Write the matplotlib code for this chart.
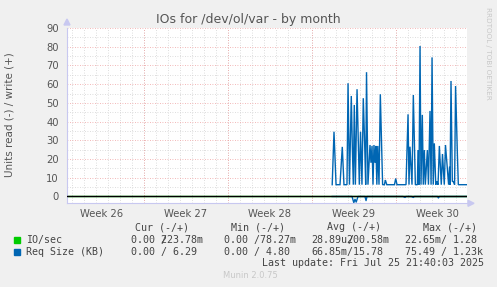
import numpy as np
import matplotlib.pyplot as plt
from matplotlib.patches import Rectangle, Polygon

# --- data (x in days from the left edge of the graph) ---
week_labels = ['Week 26', 'Week 27', 'Week 28', 'Week 29', 'Week 30']
week_starts = [6.375, 13.375, 20.375, 27.375]   # monday 00:00 lines
week_centers = [2.875, 9.875, 16.875, 23.875, 30.875]

# Req Size (KB), write (+)
req_write_x = [22.1, 22.25, 22.42, 22.75, 22.94, 23.08, 23.33, 23.42, 23.54, 23.69, 23.78,
               23.86, 23.94, 24.03, 24.17, 24.36, 24.46, 24.58, 24.69, 24.81, 24.89,
               24.96, 25.08, 25.25, 25.33, 25.42, 25.5, 25.58, 25.67, 25.74, 25.82,
               25.9, 26.0, 26.11, 26.3, 26.45, 26.53, 26.65, 27.29, 27.39, 27.5,
               28.25, 28.42, 28.5, 28.58, 28.75, 28.86, 29.03, 29.2, 29.25, 29.33,
               29.42, 29.5, 29.61, 29.69, 29.78, 29.86, 30.03, 30.12, 30.25, 30.34,
               30.42, 30.52, 30.61, 30.73, 30.82, 30.92, 31.03, 31.19, 31.29, 31.44,
               31.54, 31.8, 31.88, 31.92, 32.0, 32.11, 32.2, 32.3, 32.38, 32.53,
               32.61, 33.31]
req_write_y = [6.3, 34.6, 6.3, 6.3, 26.5, 6.3, 6.3, 60.5, 6.3, 53.7, 25.7,
               6.3, 48.9, 6.3, 57.3, 6.3, 34.6, 6.3, 52.5, 27.0, 6.3,
               66.4, 6.3, 27.5, 18.0, 27.0, 6.3, 27.5, 18.0, 27.0, 6.3,
               27.0, 6.3, 54.6, 6.3, 6.3, 8.8, 6.3, 6.3, 9.6, 6.3,
               6.3, 43.9, 6.3, 26.6, 6.3, 54.2, 6.3, 6.3, 24.8, 6.3,
               80.4, 6.3, 43.6, 6.3, 24.8, 6.3, 24.8, 6.3, 45.7, 6.3,
               74.3, 6.3, 28.4, 6.3, 8.0, 6.3, 27.0, 6.3, 22.7, 6.3,
               27.5, 6.3, 15.9, 6.3, 61.7, 8.0, 8.0, 6.3, 59.0, 23.0,
               6.3, 6.3]

# Req Size (KB), read (-)
req_read_x = [22.1, 23.75, 23.9, 24.0, 24.1, 24.25, 24.83, 24.92, 25.0, 28.0, 28.17,
              28.25, 28.7, 28.86, 28.95, 30.88, 30.95, 31.03, 33.31]
req_read_y = [0, 0, -3.3, -1.5, -3.0, 0, 0, -2.2, 0, 0, -0.5,
              0, 0, -0.5, 0, 0, -0.8, 0, 0]

legend_rows = [
    ('IO/sec', '#00CC00'),
    ('Req Size (KB)', '#0066B3'),
]

W, H = 497, 287
fig = plt.figure(figsize=(W / 100, H / 100), dpi=100, facecolor='#F0F0F0')
# plot area in pixels: x 67..467, y 28..203
ax = fig.add_axes([67 / W, 1 - 203.3 / H, 400 / W, 175.3 / H])
ax.set_facecolor('white')
ax.set_xlim(0, 33.333)
ax.set_ylim(-3.64, 90)

txt = '#555555'

# grid
for d in np.arange(0.375, 33.3, 1.0):
    ax.axvline(d, color='#D2D2D2', lw=0.6, ls=(0, (1, 2)), zorder=0)
for v in range(5, 90, 10):
    ax.axhline(v, color='#D2D2D2', lw=0.6, ls=(0, (1, 2)), zorder=0)
for d in week_starts:
    ax.axvline(d, color='#EEA0A0', lw=0.6, ls=(0, (1, 2)), zorder=0.5)
for v in range(10, 91, 10):
    ax.axhline(v, color='#EEA0A0', lw=0.6, ls=(0, (1, 2)), zorder=0.5)

# series
ax.plot([0, 33.333], [0.02, 0.02], color='#00CC00', lw=1)
ax.plot(req_write_x, req_write_y, color='#0066B3', lw=1.0, solid_joinstyle='miter')
ax.plot(req_read_x, req_read_y, color='#0066B3', lw=1.0)
ax.axhline(0, color='black', lw=1.0, zorder=3)

for s in ['top', 'right']:
    ax.spines[s].set_visible(False)
for s in ['left', 'bottom']:
    ax.spines[s].set_color('#C8C8F0')
    ax.spines[s].set_linewidth(0.8)

ax.set_yticks(range(0, 91, 10))
ax.set_yticklabels([str(v) for v in range(0, 91, 10)])
ax.set_xticks(week_centers)
ax.set_xticklabels(week_labels)
ax.tick_params(axis='both', length=0, labelsize=7.2, colors=txt, pad=6)
ax.tick_params(axis='x', pad=4)

# axis arrows
fig.patches.append(Polygon([[64 / W, 1 - 25 / H], [70 / W, 1 - 25 / H], [67 / W, 1 - 19 / H]],
                           closed=True, transform=fig.transFigure, color='#C8C8F0'))
fig.patches.append(Polygon([[468 / W, 1 - 200.3 / H], [468 / W, 1 - 206.3 / H], [474 / W, 1 - 203.3 / H]],
                           closed=True, transform=fig.transFigure, color='#C8C8F0'))

fig.text(248.5 / W, 1 - 19 / H, 'IOs for /dev/ol/var - by month', ha='center', va='center',
         fontsize=9, color=txt)
fig.text(10 / W, 1 - 115 / H, 'Units read (-) / write (+)', rotation=90, ha='center',
         va='center', fontsize=7.5, color=txt)
fig.text(488 / W, 1 - 53 / H, 'RRDTOOL / TOBI OETIKER', rotation=270, ha='center',
         va='center', fontsize=5.2, color='#C8C8C8')

mono = dict(family='DejaVu Sans Mono', fontsize=7.2, color='#444444', va='center')
cw = 5.97


def put(x, y, s):
    fig.text(x / W, 1 - y / H, s, **mono)


put(135, 227.3, 'Cur (-/+)')
put(230.7, 227.3, 'Min (-/+)')
put(327, 227.3, 'Avg (-/+)')
put(422.7, 227.3, 'Max (-/+)')

for i, (name, col) in enumerate(legend_rows):
    y = 240 + 11.7 * i
    fig.patches.append(Rectangle((14 / W, 1 - (y + 3) / H), 6 / W, 6 / H,
                                 transform=fig.transFigure, color=col))
    put(26, y, name)

# row 1 (overlapping slashes as in the reference)
put(131, 240, '0.00 223.78m')
put(131 + 5 * cw, 240, '/')
put(224, 240, '0.00 /78.27m')
put(311.7, 240, '28.89u200.58m')
put(311.7 + 6 * cw, 240, '/')
put(405, 240, '22.65m/ 1.28')
# row 2
put(131, 251.7, '0.00 / 6.29')
put(224, 251.7, '0.00 / 4.80')
put(311.7, 251.7, '66.85m/15.78')
put(405, 251.7, '75.49 / 1.23k')

put(261.7, 263.3, 'Last update: Fri Jul 25 21:40:03 2025')
fig.text(223.3 / W, 1 - 276 / H, 'Munin 2.0.75', fontsize=6, color='#C8C8C8', va='center')

fig.savefig('out.png', dpi=100, facecolor=fig.get_facecolor())
